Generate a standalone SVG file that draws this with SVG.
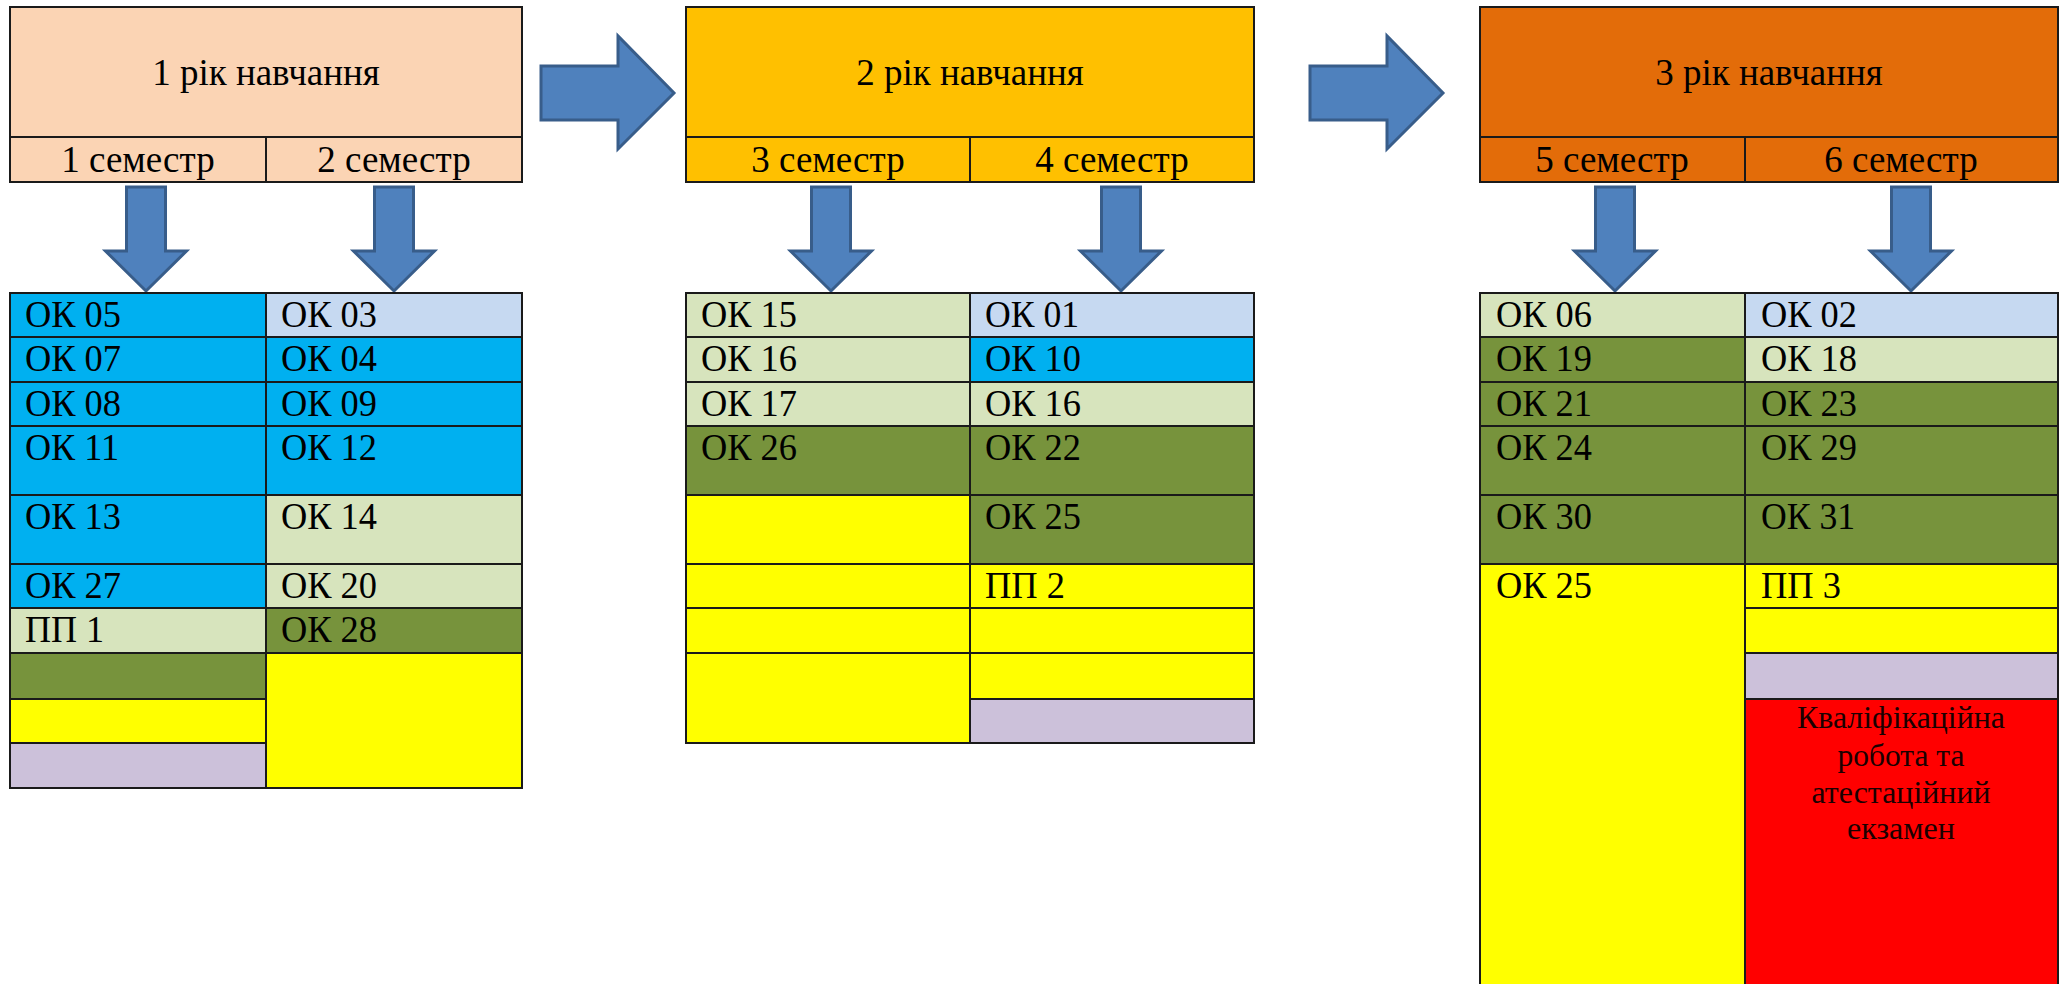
<svg xmlns="http://www.w3.org/2000/svg" width="2067" height="984" viewBox="0 0 2067 984">
<style>
  .c { stroke:#1a1a1a; stroke-width:2; }
  .t { font-family:"Liberation Serif","Times New Roman",serif; font-size:38px; fill:#000; }
  .h { font-family:"Liberation Serif","Times New Roman",serif; font-size:37px; fill:#000; text-anchor:middle; }
  .r { font-family:"Liberation Serif","Times New Roman",serif; font-size:32px; fill:#1a0000; text-anchor:middle; }
  .arr { fill:#4F81BD; stroke:#385D8A; stroke-width:3; stroke-linejoin:miter; }
  .y1 { fill:#FBD4B4; } .y2 { fill:#FFC000; } .y3 { fill:#E36C09; }
  .bl { fill:#00B0F0; } .lb { fill:#C6D9F1; } .lg { fill:#D7E4BD; } .ol { fill:#77933C; }
  .ye { fill:#FFFF00; } .lv { fill:#CCC1DA; } .rd { fill:#FF0000; }
</style>
<rect width="2067" height="984" fill="#ffffff"/>

<!-- Headers -->
<g id="year1">
  <rect class="c y1" x="10" y="7" width="512" height="130"/>
  <rect class="c y1" x="10" y="137" width="256" height="45"/>
  <rect class="c y1" x="266" y="137" width="256" height="45"/>
  <text class="h" x="266" y="85">1 рік навчання</text>
  <text class="h" x="138" y="172">1 семестр</text>
  <text class="h" x="394" y="172">2 семестр</text>
</g>
<g id="year2">
  <rect class="c y2" x="686" y="7" width="568" height="130"/>
  <rect class="c y2" x="686" y="137" width="284" height="45"/>
  <rect class="c y2" x="970" y="137" width="284" height="45"/>
  <text class="h" x="970" y="85">2 рік навчання</text>
  <text class="h" x="828" y="172">3 семестр</text>
  <text class="h" x="1112" y="172">4 семестр</text>
</g>
<g id="year3">
  <rect class="c y3" x="1480" y="7" width="578" height="130"/>
  <rect class="c y3" x="1480" y="137" width="265" height="45"/>
  <rect class="c y3" x="1745" y="137" width="313" height="45"/>
  <text class="h" x="1769" y="85">3 рік навчання</text>
  <text class="h" x="1612" y="172">5 семестр</text>
  <text class="h" x="1901" y="172">6 семестр</text>
</g>

<!-- Connectors -->
<g id="connectors">
  <path class="arr" d="M541,66 H618 V36 L674,93 L618,149 V120 H541 Z"/>
  <path class="arr" d="M1310,66 H1387 V36 L1443,93 L1387,149 V120 H1310 Z"/>
  <path class="arr" d="M126.5,187 H165.5 V251 H186.5 L146,291 L105.5,251 H126.5 Z"/>
  <path class="arr" d="M374.5,187 H413.5 V251 H434.5 L394,291 L353.5,251 H374.5 Z"/>
  <path class="arr" d="M811.5,187 H850.5 V251 H871.5 L831,291 L790.5,251 H811.5 Z"/>
  <path class="arr" d="M1101.5,187 H1140.5 V251 H1161.5 L1121,291 L1080.5,251 H1101.5 Z"/>
  <path class="arr" d="M1595.5,187 H1634.5 V251 H1655.5 L1615,291 L1574.5,251 H1595.5 Z"/>
  <path class="arr" d="M1891.5,187 H1930.5 V251 H1951.5 L1911,291 L1870.5,251 H1891.5 Z"/>
</g>

<!-- Table 1 -->
<g id="table1">
  <g id="t1-ok05"><rect class="c bl" x="10" y="293" width="256" height="44"/><text class="t" x="25" y="327" textLength="96" lengthAdjust="spacingAndGlyphs">ОК 05</text></g>
  <g id="t1-ok07"><rect class="c bl" x="10" y="337" width="256" height="45"/><text class="t" x="25" y="371" textLength="96" lengthAdjust="spacingAndGlyphs">ОК 07</text></g>
  <g id="t1-ok08"><rect class="c bl" x="10" y="382" width="256" height="44"/><text class="t" x="25" y="416" textLength="96" lengthAdjust="spacingAndGlyphs">ОК 08</text></g>
  <g id="t1-ok11"><rect class="c bl" x="10" y="426" width="256" height="69"/><text class="t" x="25" y="460" textLength="94" lengthAdjust="spacingAndGlyphs">ОК 11</text></g>
  <g id="t1-ok13"><rect class="c bl" x="10" y="495" width="256" height="69"/><text class="t" x="25" y="529" textLength="96" lengthAdjust="spacingAndGlyphs">ОК 13</text></g>
  <g id="t1-ok27"><rect class="c bl" x="10" y="564" width="256" height="44"/><text class="t" x="25" y="598" textLength="96" lengthAdjust="spacingAndGlyphs">ОК 27</text></g>
  <g id="t1-pp1"><rect class="c lg" x="10" y="608" width="256" height="45"/><text class="t" x="25" y="642" textLength="79" lengthAdjust="spacingAndGlyphs">ПП 1</text></g>
  <g id="t1-l8"><rect class="c ol" x="10" y="653" width="256" height="46"/></g>
  <g id="t1-l9"><rect class="c ye" x="10" y="699" width="256" height="44"/></g>
  <g id="t1-l10"><rect class="c lv" x="10" y="743" width="256" height="45"/></g>
  <g id="t1-ok03"><rect class="c lb" x="266" y="293" width="256" height="44"/><text class="t" x="281" y="327" textLength="96" lengthAdjust="spacingAndGlyphs">ОК 03</text></g>
  <g id="t1-ok04"><rect class="c bl" x="266" y="337" width="256" height="45"/><text class="t" x="281" y="371" textLength="96" lengthAdjust="spacingAndGlyphs">ОК 04</text></g>
  <g id="t1-ok09"><rect class="c bl" x="266" y="382" width="256" height="44"/><text class="t" x="281" y="416" textLength="96" lengthAdjust="spacingAndGlyphs">ОК 09</text></g>
  <g id="t1-ok12"><rect class="c bl" x="266" y="426" width="256" height="69"/><text class="t" x="281" y="460" textLength="96" lengthAdjust="spacingAndGlyphs">ОК 12</text></g>
  <g id="t1-ok14"><rect class="c lg" x="266" y="495" width="256" height="69"/><text class="t" x="281" y="529" textLength="96" lengthAdjust="spacingAndGlyphs">ОК 14</text></g>
  <g id="t1-ok20"><rect class="c lg" x="266" y="564" width="256" height="44"/><text class="t" x="281" y="598" textLength="96" lengthAdjust="spacingAndGlyphs">ОК 20</text></g>
  <g id="t1-ok28"><rect class="c ol" x="266" y="608" width="256" height="45"/><text class="t" x="281" y="642" textLength="96" lengthAdjust="spacingAndGlyphs">ОК 28</text></g>
  <g id="t1-r8"><rect class="c ye" x="266" y="653" width="256" height="135"/></g>
</g>

<!-- Table 2 -->
<g id="table2">
  <g id="t2-ok15"><rect class="c lg" x="686" y="293" width="284" height="44"/><text class="t" x="701" y="327" textLength="96" lengthAdjust="spacingAndGlyphs">ОК 15</text></g>
  <g id="t2-ok16a"><rect class="c lg" x="686" y="337" width="284" height="45"/><text class="t" x="701" y="371" textLength="96" lengthAdjust="spacingAndGlyphs">ОК 16</text></g>
  <g id="t2-ok17"><rect class="c lg" x="686" y="382" width="284" height="44"/><text class="t" x="701" y="416" textLength="96" lengthAdjust="spacingAndGlyphs">ОК 17</text></g>
  <g id="t2-ok26"><rect class="c ol" x="686" y="426" width="284" height="69"/><text class="t" x="701" y="460" textLength="96" lengthAdjust="spacingAndGlyphs">ОК 26</text></g>
  <g id="t2-l5"><rect class="c ye" x="686" y="495" width="284" height="69"/></g>
  <g id="t2-l6"><rect class="c ye" x="686" y="564" width="284" height="44"/></g>
  <g id="t2-l7"><rect class="c ye" x="686" y="608" width="284" height="45"/></g>
  <g id="t2-l8"><rect class="c ye" x="686" y="653" width="284" height="90"/></g>
  <g id="t2-ok01"><rect class="c lb" x="970" y="293" width="284" height="44"/><text class="t" x="985" y="327" textLength="94" lengthAdjust="spacingAndGlyphs">ОК 01</text></g>
  <g id="t2-ok10"><rect class="c bl" x="970" y="337" width="284" height="45"/><text class="t" x="985" y="371" textLength="96" lengthAdjust="spacingAndGlyphs">ОК 10</text></g>
  <g id="t2-ok16b"><rect class="c lg" x="970" y="382" width="284" height="44"/><text class="t" x="985" y="416" textLength="96" lengthAdjust="spacingAndGlyphs">ОК 16</text></g>
  <g id="t2-ok22"><rect class="c ol" x="970" y="426" width="284" height="69"/><text class="t" x="985" y="460" textLength="96" lengthAdjust="spacingAndGlyphs">ОК 22</text></g>
  <g id="t2-ok25"><rect class="c ol" x="970" y="495" width="284" height="69"/><text class="t" x="985" y="529" textLength="96" lengthAdjust="spacingAndGlyphs">ОК 25</text></g>
  <g id="t2-pp2"><rect class="c ye" x="970" y="564" width="284" height="44"/><text class="t" x="985" y="598" textLength="80" lengthAdjust="spacingAndGlyphs">ПП 2</text></g>
  <g id="t2-r7"><rect class="c ye" x="970" y="608" width="284" height="45"/></g>
  <g id="t2-r8"><rect class="c ye" x="970" y="653" width="284" height="46"/></g>
  <g id="t2-r9"><rect class="c lv" x="970" y="699" width="284" height="44"/></g>
</g>

<!-- Table 3 -->
<g id="table3">
  <g id="t3-ok06"><rect class="c lg" x="1480" y="293" width="265" height="44"/><text class="t" x="1496" y="327" textLength="96" lengthAdjust="spacingAndGlyphs">ОК 06</text></g>
  <g id="t3-ok19"><rect class="c ol" x="1480" y="337" width="265" height="45"/><text class="t" x="1496" y="371" textLength="96" lengthAdjust="spacingAndGlyphs">ОК 19</text></g>
  <g id="t3-ok21"><rect class="c ol" x="1480" y="382" width="265" height="44"/><text class="t" x="1496" y="416" textLength="96" lengthAdjust="spacingAndGlyphs">ОК 21</text></g>
  <g id="t3-ok24"><rect class="c ol" x="1480" y="426" width="265" height="69"/><text class="t" x="1496" y="460" textLength="96" lengthAdjust="spacingAndGlyphs">ОК 24</text></g>
  <g id="t3-ok30"><rect class="c ol" x="1480" y="495" width="265" height="69"/><text class="t" x="1496" y="529" textLength="96" lengthAdjust="spacingAndGlyphs">ОК 30</text></g>
  <g id="t3-ok25"><rect class="c ye" x="1480" y="564" width="265" height="440"/><text class="t" x="1496" y="598" textLength="96" lengthAdjust="spacingAndGlyphs">ОК 25</text></g>
  <g id="t3-ok02"><rect class="c lb" x="1745" y="293" width="313" height="44"/><text class="t" x="1761" y="327" textLength="96" lengthAdjust="spacingAndGlyphs">ОК 02</text></g>
  <g id="t3-ok18"><rect class="c lg" x="1745" y="337" width="313" height="45"/><text class="t" x="1761" y="371" textLength="96" lengthAdjust="spacingAndGlyphs">ОК 18</text></g>
  <g id="t3-ok23"><rect class="c ol" x="1745" y="382" width="313" height="44"/><text class="t" x="1761" y="416" textLength="96" lengthAdjust="spacingAndGlyphs">ОК 23</text></g>
  <g id="t3-ok29"><rect class="c ol" x="1745" y="426" width="313" height="69"/><text class="t" x="1761" y="460" textLength="96" lengthAdjust="spacingAndGlyphs">ОК 29</text></g>
  <g id="t3-ok31"><rect class="c ol" x="1745" y="495" width="313" height="69"/><text class="t" x="1761" y="529" textLength="94" lengthAdjust="spacingAndGlyphs">ОК 31</text></g>
  <g id="t3-pp3"><rect class="c ye" x="1745" y="564" width="313" height="44"/><text class="t" x="1761" y="598" textLength="80" lengthAdjust="spacingAndGlyphs">ПП 3</text></g>
  <g id="t3-r7"><rect class="c ye" x="1745" y="608" width="313" height="45"/></g>
  <g id="t3-r8"><rect class="c lv" x="1745" y="653" width="313" height="46"/></g>
  <g id="t3-final"><rect class="c rd" x="1745" y="699" width="313" height="305"/>
    <text class="r" x="1901" y="728" textLength="208" lengthAdjust="spacingAndGlyphs">Кваліфікаційна</text>
    <text class="r" x="1901" y="766" textLength="127" lengthAdjust="spacingAndGlyphs">робота та</text>
    <text class="r" x="1901" y="803" textLength="179" lengthAdjust="spacingAndGlyphs">атестаційний</text>
    <text class="r" x="1901" y="839" textLength="108" lengthAdjust="spacingAndGlyphs">екзамен</text>
  </g>
</g>
</svg>
